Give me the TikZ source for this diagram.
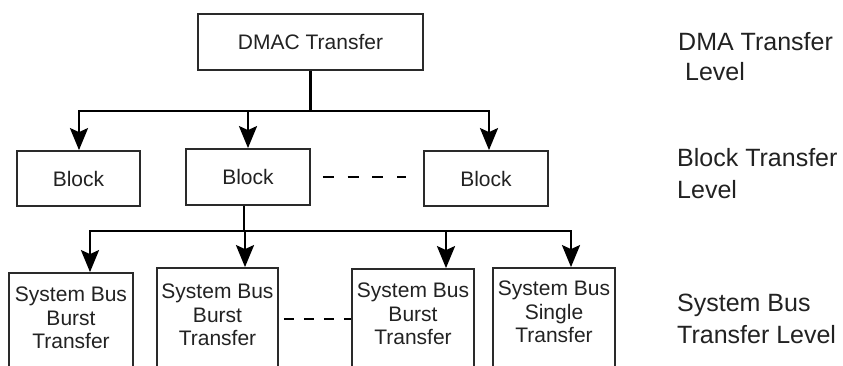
\documentclass[tikz,border=0pt]{standalone}
\usepackage{fontspec}
\setmainfont{Liberation Sans}
\usetikzlibrary{arrows.meta}
\definecolor{boxc}{HTML}{2A2A2A}
\definecolor{txt}{HTML}{222222}
\tikzset{
  box/.style={draw=boxc, line width=1.8pt, fill=white, inner sep=0pt, text=txt,
    font=\fontsize{21}{24}\selectfont},
  btext/.style={inner sep=0pt, align=center, text=txt, anchor=north,
    font=\fontsize{21}{23.5}\selectfont},
  lvl/.style={inner sep=0pt, align=left, text=txt, anchor=north west},
  conn/.style={line width=2.6pt, draw=black},
  arr/.style={conn, -{Stealth[length=22pt,width=18pt,inset=4pt]}},
  dashA/.style={line width=2.8pt, draw=black, dash pattern=on 11pt off 13.7pt},
  dashB/.style={line width=2.5pt, draw=black, dash pattern=on 10pt off 10pt},
}
\begin{document}
\begin{tikzpicture}[x=1pt,y=-1pt]
\useasboundingbox (0,0) rectangle (843,365);
\clip (0,0) rectangle (843,365);
\fill[white] (0,0) rectangle (843,365);

% top level
\node[box, minimum width=225pt, minimum height=56pt] (dmac) at (310.5,42) {DMAC Transfer};

% block level
\node[box, minimum width=123pt, minimum height=55pt] (b1) at (78.5,178.5) {Block};
\node[box, minimum width=124pt, minimum height=56pt] (b2) at (248,177) {Block};
\node[box, minimum width=124pt, minimum height=55pt] (b3) at (486,178.5) {Block};

% system bus level
\node[box, minimum width=124pt, minimum height=120pt] (s1) at (71,333) {};
\node[box, minimum width=121pt, minimum height=120pt] (s2) at (217.5,328) {};
\node[box, minimum width=122pt, minimum height=120pt] (s3) at (413,329) {};
\node[box, minimum width=122pt, minimum height=120pt] (s4) at (554,328) {};
\node[btext] (t1) at ([yshift=-15pt]s1.north) {System Bus\\Burst\\Transfer};
\node[btext] (t2) at ([yshift=-17pt]s2.north) {System Bus\\Burst\\Transfer};
\node[btext] (t3) at ([yshift=-15pt]s3.north) {System Bus\\Burst\\Transfer};
\node[btext] (t4) at ([yshift=-14pt]s4.north) {System Bus\\Single\\Transfer};

% level labels
\node[lvl, font=\fontsize{25}{30}\selectfont] (l1) at (678,32) {DMA Transfer\\\ Level};
\node[lvl, font=\fontsize{25}{32}\selectfont] (l2) at (677,148) {Block Transfer\\Level};
\node[lvl, font=\fontsize{25}{32}\selectfont] (l3) at (677,294) {System Bus\\Transfer Level};

% connectors top -> blocks
\coordinate (j1) at (310.5,111);
\draw[conn] (dmac.south) -- (j1);
\draw[arr] (j1) -| ([xshift=0.5pt]b1.north);
\draw[arr] (j1) -| (b2.north);
\draw[arr] (j1) -| ([xshift=3pt]b3.north);

% connectors block -> system bus
\coordinate (j2) at (244,231);
\draw[conn] ([xshift=-4pt]b2.south) -- (j2);
\draw[arr] (j2) -| ([xshift=19pt]s1.north);
\draw[arr] (j2) -| ([xshift=27.5pt]s2.north);
\draw[arr] (j2) -| ([xshift=33pt]s3.north);
\draw[arr] (j2) -| ([xshift=17pt]s4.north);

% dashed continuations
\draw[dashA] ([xshift=12pt]b2.east) -- ([xshift=-17pt]b2.east -| b3.west);
\draw[dashB] ([xshift=5pt,yshift=9pt]s2.east) -- ([yshift=9pt]s2.east -| s3.west);
\end{tikzpicture}
\end{document}
